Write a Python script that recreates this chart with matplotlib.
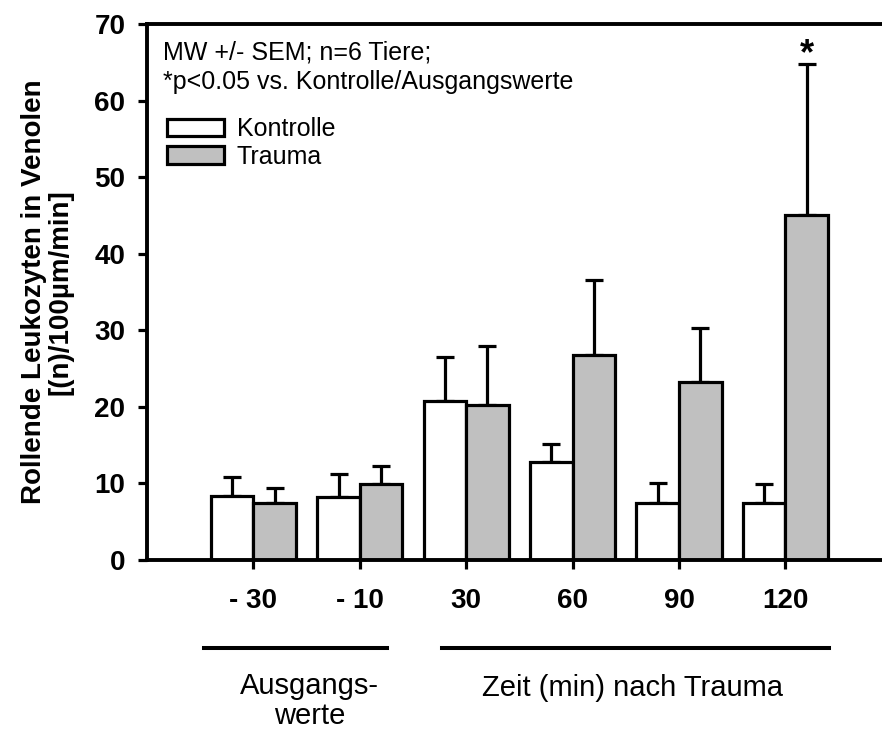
import matplotlib
matplotlib.use('Agg')
import matplotlib.pyplot as plt
import numpy as np

plt.rcParams['font.family'] = ['Liberation Sans', 'DejaVu Sans']

# data
categories = ['- 30', '- 10', '30', '60', '90', '120']
kontrolle = [8.4, 8.2, 20.8, 12.8, 7.5, 7.5]
kontrolle_sem = [2.4, 3.0, 5.7, 2.3, 2.6, 2.4]
trauma = [7.4, 9.9, 20.3, 26.8, 23.3, 45.0]
trauma_sem = [2.0, 2.4, 7.6, 9.8, 7.0, 19.8]
signif = [False, False, False, False, False, True]

fig = plt.figure(figsize=(8.82, 7.29), dpi=100)
ax = fig.add_axes([147/882, 169/729, 1 - 147/882, 536/729])

x = np.arange(1, len(categories) + 1)
w = 0.4
lw = 2.3
b1 = ax.bar(x - w/2, kontrolle, w, color='white', edgecolor='black', linewidth=lw,
            label='Kontrolle', zorder=2)
b2 = ax.bar(x + w/2, trauma, w, color='#c0c0c0', edgecolor='black', linewidth=lw,
            label='Trauma', zorder=2)
for xs, ys, es in [(x - w/2, kontrolle, kontrolle_sem), (x + w/2, trauma, trauma_sem)]:
    ax.errorbar(xs, ys, yerr=[np.zeros(len(es)), es], fmt='none', ecolor='black',
                elinewidth=lw, capsize=6.5, capthick=lw, zorder=1)

for xi, yi, ei, s in zip(x, trauma, trauma_sem, signif):
    if s:
        ax.annotate('*', xy=(xi + w/2, yi + ei), xytext=(0, 0), textcoords='offset points',
                    ha='center', va='baseline', fontsize=26, fontweight='bold')

ax.set_xlim(0, 735/106.4)
ax.set_ylim(0, 70)
ax.set_yticks(range(0, 71, 10))
ax.set_xticks(x)
ax.set_xticklabels(categories, fontsize=20, fontweight='bold')
for t in ax.get_yticklabels():
    t.set_fontsize(20); t.set_fontweight('bold')
ax.tick_params(axis='both', direction='out', length=6.5, width=lw)
ax.tick_params(axis='x', pad=14)
ax.tick_params(axis='y', pad=9)
for s in ['left', 'bottom', 'top']:
    ax.spines[s].set_linewidth(2.8)
ax.spines['right'].set_visible(False)

ax.set_ylabel('Rollende Leukozyten in Venolen\n[(n)/100µm/min]', fontsize=20,
              fontweight='bold', linespacing=1.05, labelpad=15)

ax.text(0.0214, 0.9459, 'MW +/- SEM; n=6 Tiere;', transform=ax.transAxes,
        fontsize=18, va='center', ha='left')
ax.text(0.0214, 0.8918, '*p<0.05 vs. Kontrolle/Ausgangswerte', transform=ax.transAxes,
        fontsize=18, va='center', ha='left')
leg = ax.legend(handles=[b1, b2], loc='upper left', bbox_to_anchor=(0.027, 0.8265),
                frameon=False, fontsize=18, borderpad=0, borderaxespad=0,
                handlelength=2.3, handleheight=0.68, handletextpad=0.5, labelspacing=0.15)

# group brackets under the axis
xt = ax.get_xaxis_transform()
ax.plot([0.536, 2.256], [-0.1636, -0.1636], color='black', lw=2.9, transform=xt, clip_on=False)
ax.plot([2.77, 6.41], [-0.1636, -0.1636], color='black', lw=2.9, transform=xt, clip_on=False)
ax.text(1.53, -0.263, 'Ausgangs-\nwerte', transform=xt, ha='center', va='center',
        fontsize=21, linespacing=1.1)
ax.text(4.56, -0.239, 'Zeit (min) nach Trauma', transform=xt, ha='center', va='center',
        fontsize=21)

fig.savefig('out.png', dpi=100)
